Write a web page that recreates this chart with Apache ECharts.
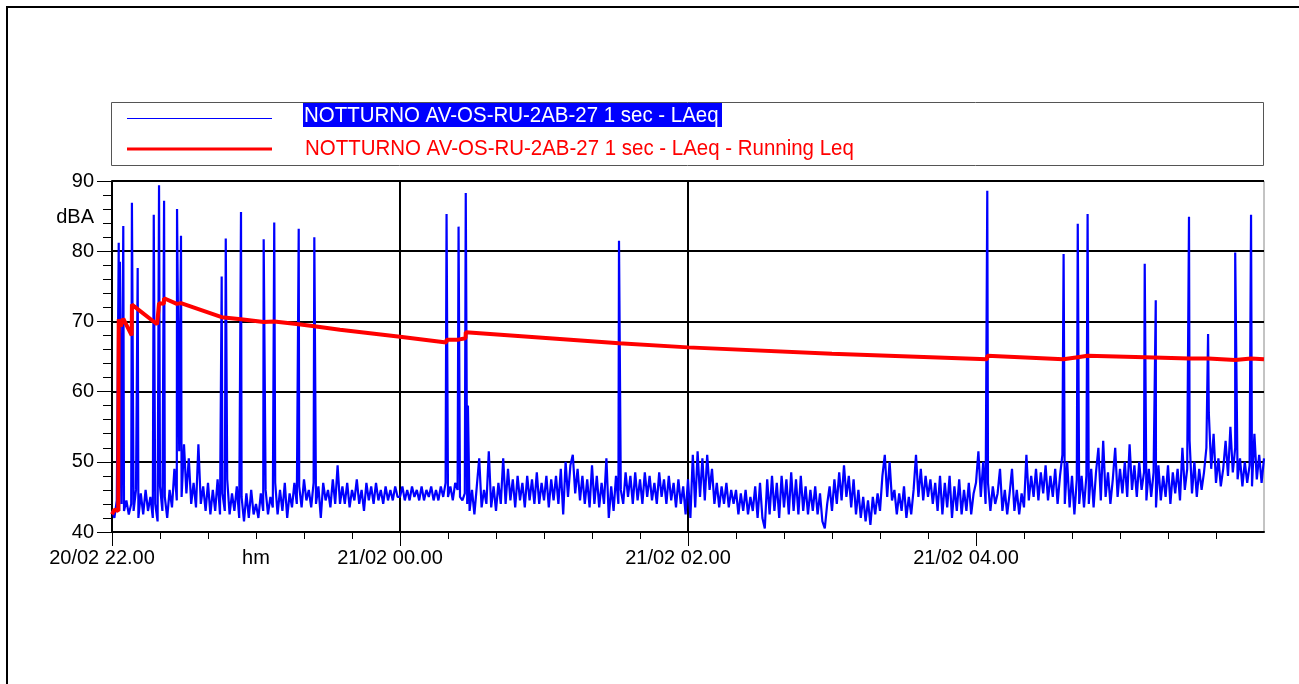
<!DOCTYPE html>
<html>
<head>
<meta charset="utf-8">
<script src="https://cdn.jsdelivr.net/npm/echarts@6/dist/echarts.min.js"></script>
<style>
  html, body { margin: 0; padding: 0; background: #fff; }
  #chart { width: 1299px; height: 684px; }
</style>
</head>
<body>
<div id="chart"></div>
<script>
// minutes from 20/02 22.00, one value per minute (LAeq 1 sec)
const h22 = [43, 42, 44.5, 43, 44, 43, 44.5, 42.5, 44, 43,
  46, 42, 45.5, 42.5, 46, 43, 45, 42, 44, 41.5,
  46.5, 43, 45, 42, 46, 43.5, 49, 44.5, 51.5, 45,
  52.5, 45.5, 50.5, 44, 47, 43.5, 52.5, 44, 46.5, 43,
  47, 42.5, 46, 43, 47.5, 42.5, 45.5, 43, 47.5, 42.5,
  45.5, 43, 46.5, 42, 45, 41.5, 45.5, 42, 46, 42.5]
const h23 = [44, 42, 45.5, 43, 46, 42.5, 45, 43.5, 47, 42.5,
  46, 43, 47, 42, 45.5, 43.5, 47, 44, 46.5, 43.5,
  47.5, 44.5, 46, 43.5, 47, 44, 46.5, 42, 47, 44.5,
  46, 43.5, 47.5, 44, 49.5, 44, 46.5, 44, 47, 43.5,
  46, 44.5, 47.5, 44, 46, 43, 47, 44.5, 46.5, 44,
  47, 44.5, 46, 44, 46.5, 44.5, 46, 44.5, 46.5, 45]
const h00 = [45, 46.5, 44.5, 46, 44.5, 46.5, 45, 46, 44.5, 46.5,
  44.5, 46, 45, 46.5, 44.5, 46, 44.5, 46.5, 45, 47,
  45, 46.5, 44.5, 47, 46, 45, 44.5, 45.5, 44, 43,
  46, 42.5, 46.5, 50.5, 43.5, 46, 44, 51.5, 43.5, 46.5,
  43, 47, 44, 50.5, 44, 49, 44.5, 47.5, 43.5, 48,
  44.5, 47, 43.5, 48, 44.5, 47.5, 44, 48.5, 44, 47]
const h01 = [44.5, 48, 43.5, 47.5, 44.5, 48, 44, 49, 42.5, 50,
  45, 49.5, 51, 45.5, 49, 44.5, 48, 44, 47.5, 43.5,
  49.5, 44, 48, 43.5, 47, 44, 50.5, 42, 46.5, 43,
  48, 44, 46, 44, 48.5, 45, 48, 44, 48.5, 44.5,
  47.5, 44, 48.5, 45, 48, 44.5, 47, 44, 48.5, 45,
  47.5, 44, 48, 44.5, 47, 43.5, 47.5, 44, 46.5, 42.5]
const h02 = [47.5, 42, 51, 43.5, 51.5, 45, 50.5, 44.5, 51, 46,
  49, 44, 47, 43.5, 46.5, 44, 47, 43.5, 46, 44,
  46, 42.5, 45.5, 43, 46, 42.5, 45, 43, 46.5, 42,
  47, 42, 40.5, 47.5, 42.5, 48, 43, 47, 42, 48,
  43.5, 47.5, 42.5, 48.5, 43, 47.5, 42.5, 48, 43, 46.5,
  42.5, 46, 43, 46.5, 42.5, 45.5, 41.5, 40.5, 44, 46.5]
const h03 = [43, 47.5, 44, 48.5, 44.5, 49.5, 45, 48, 43.5, 47.5,
  42.5, 46, 42, 45, 41.5, 44.5, 41, 45, 42.5, 45.5,
  43, 48, 51, 45, 50, 44.5, 46, 42.5, 45.5, 43,
  46.5, 42, 45, 42.5, 46, 51, 45, 49, 44.5, 48,
  45, 47.5, 44, 47, 43, 48, 42.5, 47, 43.5, 48,
  42, 46.5, 43, 47.5, 42.5, 46, 43, 47, 42.5, 45.5]
const h04 = [47, 51.5, 45, 50, 44, 47, 43, 46.5, 44, 45.5,
  49, 43, 46, 42.5, 45.5, 49, 43, 46, 42.5, 45.5,
  43.5, 51, 44.5, 48, 45, 49, 44.5, 48.5, 45.5, 49.5,
  44.5, 48, 45, 49, 44, 48, 51, 44, 50, 43.5,
  48, 42.5, 47.5, 44, 48, 43.5, 48, 44, 49, 43.5,
  48.5, 52, 44.5, 53, 45, 48.5, 44, 47.5, 52, 45]
const h05 = [49, 45.5, 50, 45, 52.5, 46, 49.5, 45, 50, 46,
  48.5, 44.5, 49, 45, 48.5, 43.5, 49.5, 44.5, 48, 45,
  49.5, 44, 48.5, 45.5, 49, 44.5, 52, 46, 49, 53,
  45.5, 50, 45, 49, 46, 48.5, 52, 57, 49, 54,
  47, 50.5, 46.5, 49, 53, 48, 55, 48.5, 52, 47.5,
  50.5, 46.5, 50, 47, 49.5, 46.5, 54, 47.5, 51, 47, 50.5]

// single loud events [minute, dBA]
const spikes = [[2.8, 81.2], [3.3, 78.5], [4.7, 83.6], [8.3, 86.9], [10.7, 77.6],
  [17.4, 85.2], [19.6, 89.4], [21.7, 87.2], [27.1, 86.0], [28.75, 82.2],
  [45.7, 76.4], [47.4, 81.8], [53.75, 85.6], [63.2, 81.7], [67.6, 84.1],
  [77.8, 83.2], [84.3, 82.0], [139.4, 85.3], [144.4, 83.5], [147.4, 88.3],
  [148.3, 58], [211.25, 81.5], [364.7, 88.6], [396.5, 79.6], [402.4, 83.9],
  [406.5, 85.3], [430.3, 78.2], [434.9, 73.0], [448.75, 84.9], [456.7, 68.2],
  [468, 79.8], [474.6, 85.2]]

// running Leq [minute, dBA]
const runLeq = [[0, 42.5], [1, 43.2], [2.6, 43], [2.8, 70.3], [3.6, 69.3], [4.7, 70.4],
  [8.2, 68.0], [8.3, 72.4], [18.8, 69.6], [19.6, 72.6], [21.6, 72.5], [21.7, 73.3],
  [27, 72.5], [28.75, 72.6], [45.7, 70.6], [53.75, 70.3], [63.2, 69.9], [67.6, 70.0],
  [77.8, 69.6], [84.3, 69.3], [95, 68.8], [120, 67.8], [139.3, 67.0], [139.4, 67.4],
  [144.3, 67.4], [144.4, 67.5], [147.3, 67.6], [147.4, 68.45], [211.25, 66.9],
  [240, 66.3], [300, 65.4], [364.6, 64.6], [364.7, 65.1], [396.4, 64.6], [396.5, 64.7],
  [402.4, 64.9], [406.5, 65.1], [430.3, 64.9], [448.75, 64.7], [456.7, 64.7],
  [468, 64.5], [474.6, 64.7], [480, 64.6]]

const xLabels = { 0: '20/02 22.00', 60: 'hm', 120: '21/02 00.00', 240: '21/02 02.00', 360: '21/02 04.00' }
const seriesNames = ['NOTTURNO AV-OS-RU-2AB-27 1 sec - LAeq', 'NOTTURNO AV-OS-RU-2AB-27 1 sec - LAeq - Running Leq']

const FONT = '"Liberation Sans", Arial, sans-serif'

const blueData = []
;[h22, h23, h00, h01, h02, h03, h04, h05].forEach((arr, k) => {
  arr.forEach((v, i) => blueData.push([k * 60 + i, v]))
})
spikes.forEach(s => blueData.push(s))
blueData.sort((a, b) => a[0] - b[0])

const chart = echarts.init(document.getElementById('chart'))
chart.setOption({
  animation: false,
  grid: {
    left: 112, right: 35, top: 181, bottom: 152,
    show: true, borderColor: '#888', borderWidth: 1
  },
  xAxis: {
    type: 'value', min: 0, max: 480, interval: 120,
    axisLine: { lineStyle: { color: '#000', width: 2 } },
    axisTick: { length: 14, customValues: [0, 120, 240, 360], lineStyle: { color: '#000', width: 1 } },
    minorTick: { show: true, splitNumber: 6, length: 7, lineStyle: { color: '#000', width: 1 } },
    splitLine: { show: true, showMaxLine: false, lineStyle: { color: '#000', width: 2 } },
    axisLabel: {
      customValues: [0, 60, 120, 240, 360],
      margin: 16, color: '#000', fontSize: 20, fontFamily: FONT,
      formatter: v => v === 60 ? 'hm' : '{d|' + xLabels[v] + '}',
      rich: { d: { padding: [0, 20, 0, 0], fontSize: 20, fontFamily: FONT, color: '#000' } }
    }
  },
  yAxis: {
    type: 'value', min: 40, max: 90, interval: 10,
    axisLine: { show: true, lineStyle: { color: '#000', width: 2 } },
    axisTick: { show: true, length: 15, lineStyle: { color: '#000', width: 1 } },
    minorTick: { show: true, splitNumber: 5, length: 9, lineStyle: { color: '#000', width: 1 } },
    splitLine: { show: true, lineStyle: { color: '#000', width: 2 } },
    axisLabel: { margin: 18, color: '#000', fontSize: 20, fontFamily: FONT }
  },
  series: [
    {
      name: seriesNames[0], type: 'line', data: blueData, showSymbol: false,
      lineStyle: { color: '#0000ff', width: 2.2 }, z: 3
    },
    {
      name: seriesNames[1], type: 'line', data: runLeq, showSymbol: false,
      lineStyle: { color: '#ff0000', width: 4 }, z: 4
    }
  ],
  graphic: [
    // outer frame
    { type: 'line', shape: { x1: 6, y1: 7, x2: 1299, y2: 7 }, style: { stroke: '#000', lineWidth: 2 } },
    { type: 'line', shape: { x1: 7, y1: 6, x2: 7, y2: 684 }, style: { stroke: '#000', lineWidth: 2 } },
    // legend box
    { type: 'rect', shape: { x: 111.5, y: 102.5, width: 1152, height: 63 }, style: { fill: '#fff', stroke: '#555', lineWidth: 1 } },
    { type: 'line', shape: { x1: 127, y1: 118.5, x2: 272, y2: 118.5 }, style: { stroke: '#0000ff', lineWidth: 1 } },
    { type: 'line', shape: { x1: 127, y1: 149, x2: 272, y2: 149 }, style: { stroke: '#ff0000', lineWidth: 3 } },
    { type: 'rect', shape: { x: 303, y: 103, width: 419, height: 24 }, style: { fill: '#0000ff' } },
    {
      type: 'text', x: 304, y: 115.5, scaleX: 0.93,
      style: { text: seriesNames[0], fill: '#fff', font: '22px ' + FONT, textVerticalAlign: 'middle' }
    },
    {
      type: 'text', x: 305, y: 149, scaleX: 0.93,
      style: { text: seriesNames[1], fill: '#ff0000', font: '22px ' + FONT, textVerticalAlign: 'middle' }
    },
    // unit label
    {
      type: 'text', x: 94, y: 217,
      style: { text: 'dBA', fill: '#000', font: '20px ' + FONT, textAlign: 'right', textVerticalAlign: 'middle' }
    }
  ]
})
</script>
</body>
</html>
